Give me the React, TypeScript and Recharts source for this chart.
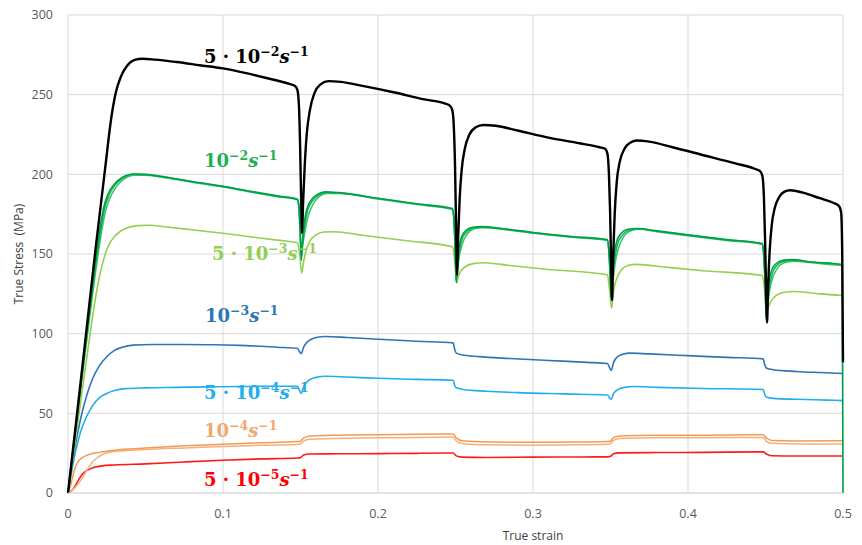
import { LineChart, Line, XAxis, YAxis, CartesianGrid, ReferenceDot } from "recharts";

// axis ticks
const STRAIN_TICKS = [0, 0.1, 0.2, 0.3, 0.4, 0.5];
const STRESS_TICKS = [0, 50, 100, 150, 200, 250, 300];

// [true strain, true stress (MPa)]
const rate5e2 = [
  [0, 0], [0.006, 51], [0.012, 103], [0.018, 155], [0.024, 204], [0.028, 236], [0.031, 252], [0.034, 261],
  [0.038, 268], [0.043, 271.8], [0.048, 272.5], [0.056, 272], [0.07, 270.5], [0.085, 268.5], [0.1, 266.5],
  [0.115, 263.5], [0.13, 260], [0.142, 257], [0.1465, 255.5], [0.148, 253], [0.149, 243], [0.1497, 220],
  [0.1503, 190], [0.151, 163], [0.1517, 183], [0.1527, 205], [0.154, 225], [0.156, 240], [0.159, 251],
  [0.163, 256.5], [0.168, 258.5], [0.176, 258], [0.19, 255.5], [0.21, 251.5], [0.23, 247], [0.243, 244.5],
  [0.2465, 243], [0.248, 240], [0.249, 228], [0.2497, 205], [0.2503, 172], [0.251, 137], [0.2517, 160],
  [0.2527, 185], [0.254, 203], [0.256, 216], [0.259, 225], [0.263, 229.5], [0.268, 231], [0.276, 230.5],
  [0.29, 227.5], [0.31, 223], [0.33, 219.5], [0.343, 217], [0.3465, 216], [0.348, 213], [0.349, 200],
  [0.3497, 178], [0.3503, 150], [0.351, 121], [0.3517, 148], [0.3527, 175], [0.354, 195], [0.356, 208],
  [0.359, 216], [0.363, 220], [0.367, 221.2], [0.375, 220.5], [0.39, 217], [0.41, 212], [0.43, 207],
  [0.443, 203.5], [0.4465, 202], [0.448, 199], [0.449, 185], [0.4497, 160], [0.4503, 132], [0.451, 107],
  [0.4517, 130], [0.4527, 152], [0.454, 168], [0.456, 179], [0.459, 186], [0.462, 189], [0.466, 190],
  [0.474, 188.5], [0.485, 185], [0.494, 182], [0.4975, 180], [0.4988, 176], [0.4995, 150], [0.5, 82],
];

const rate1e2a = [
  [0, 0], [0.006, 50], [0.012, 99], [0.017, 140], [0.0205, 165], [0.023, 179], [0.026, 188], [0.03, 194],
  [0.035, 198], [0.042, 200.2], [0.05, 200], [0.065, 198], [0.08, 195.5], [0.1, 192.5], [0.12, 189],
  [0.135, 186.5], [0.148, 184.5], [0.149, 180], [0.1497, 168], [0.1505, 146], [0.1513, 158], [0.1525, 170],
  [0.154, 178], [0.157, 184], [0.161, 187.5], [0.166, 189], [0.175, 188.5], [0.2, 185], [0.225, 181.5],
  [0.248, 178.5], [0.249, 172], [0.2497, 158], [0.2505, 132], [0.2513, 145], [0.2525, 155], [0.254, 161],
  [0.257, 165], [0.261, 166.8], [0.267, 167.2], [0.28, 166], [0.3, 163.5], [0.325, 161], [0.348, 159],
  [0.349, 152], [0.3497, 140], [0.3505, 121], [0.3513, 137], [0.3525, 150], [0.354, 158], [0.357, 163],
  [0.361, 165.5], [0.367, 166], [0.38, 164.5], [0.4, 162], [0.425, 159], [0.448, 156.5], [0.449, 148],
  [0.4497, 135], [0.4505, 109], [0.4513, 123], [0.4525, 134], [0.454, 140], [0.457, 144], [0.461, 146],
  [0.467, 146.5], [0.48, 145], [0.4985, 143.5], [0.4995, 142], [0.5, 0],
];

const rate1e2b = [
  [0, 0], [0.006, 48], [0.012, 95], [0.018, 140], [0.0215, 163], [0.024, 176], [0.027, 185], [0.031, 192],
  [0.036, 197], [0.043, 199.5], [0.05, 199.5], [0.065, 197.5], [0.08, 195], [0.1, 192], [0.12, 188.5],
  [0.135, 186], [0.148, 184], [0.149, 178], [0.1497, 165], [0.1505, 150], [0.1515, 156], [0.153, 165],
  [0.155, 174], [0.158, 181], [0.162, 186], [0.167, 188], [0.175, 188], [0.2, 184.5], [0.225, 181],
  [0.248, 178], [0.249, 170], [0.2497, 155], [0.2505, 135], [0.2515, 142], [0.253, 151], [0.255, 158],
  [0.258, 163], [0.262, 165.8], [0.268, 166.5], [0.28, 165.5], [0.3, 163], [0.325, 160.5], [0.348, 158.5],
  [0.349, 150], [0.3497, 138], [0.3505, 124], [0.3515, 132], [0.353, 144], [0.355, 153], [0.358, 160],
  [0.362, 164], [0.368, 165.5], [0.38, 164], [0.4, 161.5], [0.425, 158.5], [0.448, 156], [0.449, 146],
  [0.4497, 132], [0.4505, 112], [0.4515, 119], [0.453, 129], [0.455, 136], [0.458, 141.5], [0.462, 144.5],
  [0.468, 145.5], [0.48, 144.5], [0.4985, 143], [0.4995, 143],
];

const rate1e2c = [
  [0, 0], [0.006, 49], [0.012, 97], [0.0175, 140], [0.021, 164], [0.0235, 178], [0.0265, 187], [0.0305, 193.5],
  [0.0355, 197.8], [0.0425, 200], [0.05, 199.8], [0.065, 197.8], [0.08, 195.3], [0.1, 192.3], [0.12, 188.8],
  [0.135, 186.3], [0.148, 184.3], [0.149, 179], [0.1497, 166], [0.1505, 148], [0.1514, 157], [0.1528, 168],
  [0.1545, 177], [0.1575, 183], [0.1615, 186.8], [0.1665, 188.6], [0.175, 188.3], [0.2, 184.8], [0.225, 181.3],
  [0.248, 178.3], [0.249, 171], [0.2497, 156], [0.2505, 133], [0.2514, 144], [0.2528, 153], [0.2545, 160],
  [0.2575, 164], [0.2615, 166.3], [0.2675, 166.9], [0.28, 165.8], [0.3, 163.3], [0.325, 160.8], [0.348, 158.8],
  [0.349, 151], [0.3497, 139], [0.3505, 122], [0.3514, 135], [0.3528, 147], [0.3545, 156], [0.3575, 161.5],
  [0.3615, 164.8], [0.3675, 165.8], [0.38, 164.3], [0.4, 161.8], [0.425, 158.8], [0.448, 156.3], [0.449, 147],
  [0.4497, 134], [0.4505, 110], [0.4514, 121], [0.4528, 131], [0.4545, 138], [0.4575, 143], [0.4615, 145.3],
  [0.4675, 146], [0.48, 144.8], [0.4985, 143.3], [0.4995, 142.5],
];

const rate5e3 = [
  [0, 0], [0.007, 49], [0.014, 98], [0.018, 124], [0.022, 143], [0.026, 155], [0.031, 162], [0.037, 166],
  [0.045, 167.8], [0.052, 168], [0.065, 166.8], [0.08, 165.2], [0.1, 163], [0.12, 160.5], [0.135, 158.7],
  [0.148, 157], [0.149, 153], [0.1497, 148], [0.1507, 138], [0.152, 145], [0.1535, 152], [0.156, 158],
  [0.16, 162], [0.165, 163.8], [0.172, 164], [0.19, 161.8], [0.22, 158.2], [0.248, 154.5], [0.249, 150],
  [0.2497, 144], [0.2507, 132], [0.252, 136.5], [0.254, 140], [0.257, 142.5], [0.262, 144], [0.268, 144.5],
  [0.285, 142.8], [0.31, 140.3], [0.348, 137], [0.349, 131], [0.3497, 125], [0.3507, 116], [0.352, 127],
  [0.354, 134.5], [0.357, 140], [0.361, 142.8], [0.367, 143.5], [0.385, 141.8], [0.41, 139.5], [0.448, 136.5],
  [0.449, 131], [0.4497, 124], [0.4507, 113], [0.452, 117], [0.454, 121], [0.457, 124], [0.462, 126],
  [0.468, 126.5], [0.485, 125], [0.5, 124],
];

const rate1e3 = [
  [0, 0], [0.004, 26], [0.008, 46], [0.012, 61], [0.016, 72], [0.02, 79.5], [0.025, 85.5], [0.03, 89.5],
  [0.035, 91.5], [0.042, 92.8], [0.055, 93.2], [0.075, 93.2], [0.095, 93], [0.115, 92.5], [0.135, 91.5],
  [0.148, 90.8], [0.1495, 88.5], [0.1505, 87.5], [0.152, 91.5], [0.154, 94.5], [0.157, 96.5], [0.161, 97.8],
  [0.166, 98.2], [0.18, 97.6], [0.2, 96.5], [0.225, 95.2], [0.2485, 94.2], [0.2495, 90], [0.2505, 87.8],
  [0.254, 86.8], [0.265, 85.6], [0.285, 84.4], [0.31, 83.2], [0.335, 82], [0.348, 81.3], [0.3495, 78.5],
  [0.3505, 77], [0.352, 82], [0.354, 85], [0.357, 86.8], [0.362, 87.8], [0.375, 87.3], [0.4, 86.2],
  [0.425, 85.1], [0.4485, 84.2], [0.4495, 80.5], [0.4505, 78.5], [0.455, 77.4], [0.47, 76.3], [0.485, 75.6],
  [0.5, 75],
];

const rate5e4 = [
  [0, 0], [0.004, 22], [0.008, 38], [0.012, 48], [0.016, 55], [0.02, 59.5], [0.025, 62.5], [0.03, 64.3],
  [0.037, 65.5], [0.05, 66], [0.07, 66.3], [0.09, 66.6], [0.11, 66.8], [0.13, 67], [0.148, 67], [0.1495, 64],
  [0.1505, 62.5], [0.152, 66.5], [0.154, 69.5], [0.157, 71.6], [0.161, 72.8], [0.166, 73.3], [0.18, 72.8],
  [0.2, 72], [0.225, 71.3], [0.2485, 70.8], [0.2495, 67.5], [0.2505, 66], [0.255, 65], [0.27, 63.9],
  [0.29, 63], [0.32, 62.2], [0.348, 61.5], [0.3495, 59.5], [0.3505, 58.8], [0.352, 62.5], [0.355, 65],
  [0.359, 66.3], [0.365, 66.8], [0.38, 66.3], [0.41, 65.6], [0.4485, 65], [0.4495, 61.8], [0.4505, 60.3],
  [0.455, 59.4], [0.47, 58.8], [0.49, 58.3], [0.5, 58],
];

const rate1e4a = [
  [0, 0], [0.002, 6], [0.004, 14], [0.006, 19], [0.009, 22], [0.013, 24], [0.02, 25.5], [0.03, 26.8],
  [0.05, 28.2], [0.075, 29.6], [0.1, 30.6], [0.125, 31.5], [0.148, 32.3], [0.15, 32.5], [0.152, 34.5],
  [0.156, 35.8], [0.17, 36.2], [0.2, 36.6], [0.225, 36.8], [0.2485, 37], [0.2505, 34.6], [0.254, 32.8],
  [0.265, 32.2], [0.3, 31.8], [0.33, 32], [0.3485, 32.3], [0.35, 32.6], [0.352, 34.8], [0.356, 35.8],
  [0.38, 36.2], [0.41, 36.3], [0.4485, 36.5], [0.4505, 34.5], [0.454, 33], [0.47, 32.7], [0.5, 32.8],
];

const rate1e4b = [
  [0, 0], [0.003, 2], [0.006, 5], [0.009, 9], [0.012, 14], [0.015, 18.5], [0.018, 21.5], [0.022, 24],
  [0.03, 26], [0.05, 27.3], [0.075, 28.3], [0.1, 29.2], [0.125, 30], [0.148, 30.5], [0.15, 30.7],
  [0.152, 32.6], [0.156, 33.8], [0.17, 34.2], [0.2, 34.6], [0.225, 34.9], [0.2485, 35.2], [0.2505, 32.6],
  [0.254, 31], [0.265, 30.3], [0.3, 30], [0.33, 30.3], [0.3485, 30.6], [0.35, 31], [0.352, 33],
  [0.356, 34.2], [0.38, 34.6], [0.41, 34.7], [0.4485, 34.8], [0.4505, 32.6], [0.454, 31.2], [0.47, 30.8],
  [0.5, 30.8],
];

const rate5e5 = [
  [0, 0], [0.003, 2], [0.005, 5], [0.007, 8.5], [0.009, 11.5], [0.012, 14], [0.016, 15.8], [0.022, 17],
  [0.03, 17.6], [0.05, 18.3], [0.075, 19.5], [0.1, 20.6], [0.125, 21.4], [0.148, 22], [0.15, 22.2],
  [0.152, 23.8], [0.156, 24.5], [0.175, 24.6], [0.2, 24.7], [0.225, 24.9], [0.2485, 25.1], [0.2505, 23.3],
  [0.254, 22.5], [0.27, 22.3], [0.3, 22.5], [0.33, 22.6], [0.3485, 22.7], [0.35, 23], [0.352, 24.6],
  [0.356, 25.2], [0.38, 25.4], [0.41, 25.5], [0.4485, 25.8], [0.4505, 24.5], [0.454, 23.4], [0.47, 23.2],
  [0.5, 23.2],
];

// strain-rate annotations
const labelMantissa = ["5 · ", "", "5 · ", "", "5 · ", "", "5 · "];
const labelExponent = ["−2", "−2", "−3", "−3", "−4", "−4", "−5"];
const labelStrain = [0.0877, 0.0877, 0.0929, 0.0884, 0.0877, 0.0877, 0.0877];
const labelStress = [269.8, 204.5, 146.2, 107.3, 59, 35.1, 4.4];
const labelColors = ["#000000", "#1FAF56", "#92D050", "#2E75B6", "#21AEEA", "#F4A76A", "#FF0000"];

const toPoints = (pairs: number[][]) => pairs.map(([strain, stress]) => ({ strain, stress }));

// drawn bottom to top
const SERIES = [
  { name: "5e-5", data: rate5e5, color: "#FF1A1A", width: 1.6 },
  { name: "1e-4 b", data: rate1e4b, color: "#F7B07A", width: 1.5 },
  { name: "1e-4 a", data: rate1e4a, color: "#F39A52", width: 1.5 },
  { name: "5e-4", data: rate5e4, color: "#22ADEB", width: 1.6 },
  { name: "1e-3", data: rate1e3, color: "#2E75B6", width: 1.6 },
  { name: "5e-3", data: rate5e3, color: "#92D050", width: 1.6 },
  { name: "1e-2 b", data: rate1e2b, color: "#3CC46C", width: 1.5 },
  { name: "1e-2 c", data: rate1e2c, color: "#17B357", width: 1.5 },
  { name: "1e-2 a", data: rate1e2a, color: "#00A048", width: 1.6 },
  { name: "5e-2", data: rate5e2, color: "#000000", width: 2.4 },
];

const TICK_STYLE = { fontFamily: "'Open Sans', sans-serif", fontSize: 12.5, fill: "#595959" };

function rateLabel(i: number) {
  return (props: any) => {
    const vb = props.viewBox || {};
    const x = vb.x;
    const y = vb.y;
    return (
      <text
        x={x}
        y={y}
        fill={labelColors[i]}
        fontFamily="'DejaVu Serif', serif"
        fontWeight="bold"
        fontSize={18}
      >
        <tspan>{labelMantissa[i] + "10"}</tspan>
        <tspan dy={-7} fontSize={12.5}>{labelExponent[i]}</tspan>
        <tspan dy={7} fontStyle="italic">s</tspan>
        <tspan dy={-7} fontSize={12.5}>−1</tspan>
      </text>
    );
  };
}

const yTitle = (props: any) => {
  const vb = props.viewBox;
  const cx = vb.x + 10;
  const cy = vb.y + vb.height / 2;
  return (
    <text
      x={cx}
      y={cy}
      transform={`rotate(-90, ${cx}, ${cy})`}
      textAnchor="middle"
      dominantBaseline="central"
      fontFamily="'Open Sans', sans-serif"
      fontSize={12}
      fill="#404040"
      style={{ whiteSpace: "pre" }}
    >
      True Stress  (MPa)
    </text>
  );
};

const xTitle = (props: any) => {
  const vb = props.viewBox;
  return (
    <text
      x={vb.x + 465}
      y={vb.y + 47}
      textAnchor="middle"
      fontFamily="'Open Sans', sans-serif"
      fontSize={12}
      fill="#404040"
    >
      True strain
    </text>
  );
};

export default function App() {
  return (
    <div style={{ width: 862, height: 545, background: "#fff" }}>
      <style>{"body{margin:0}"}</style>
      <LineChart width={862} height={545} margin={{ top: 15, right: 19, bottom: 0, left: 8 }}>
        <CartesianGrid stroke="#D9D9D9" strokeWidth={1} />
        <XAxis
          dataKey="strain"
          type="number"
          domain={[0, 0.5]}
          ticks={STRAIN_TICKS}
          tickFormatter={(v: number) => String(v)}
          tick={TICK_STYLE}
          tickLine={false}
          tickMargin={10}
          axisLine={{ stroke: "#D9D9D9" }}
          height={52}
          label={{ content: xTitle }}
        />
        <YAxis
          type="number"
          domain={[0, 300]}
          ticks={STRESS_TICKS}
          tick={TICK_STYLE}
          tickLine={false}
          tickMargin={9}
          axisLine={false}
          width={60}
          label={{ content: yTitle }}
        />
        {SERIES.map((s) => (
          <Line
            key={s.name}
            data={toPoints(s.data)}
            dataKey="stress"
            type="monotone"
            stroke={s.color}
            strokeWidth={s.width}
            dot={false}
            activeDot={false}
            isAnimationActive={false}
          />
        ))}
        {labelStrain.map((sx, i) => (
          <ReferenceDot
            key={`lbl-${i}`}
            x={sx}
            y={labelStress[i]}
            r={0}
            fill="none"
            stroke="none"
            label={{ content: rateLabel(i) }}
          />
        ))}
      </LineChart>
    </div>
  );
}
